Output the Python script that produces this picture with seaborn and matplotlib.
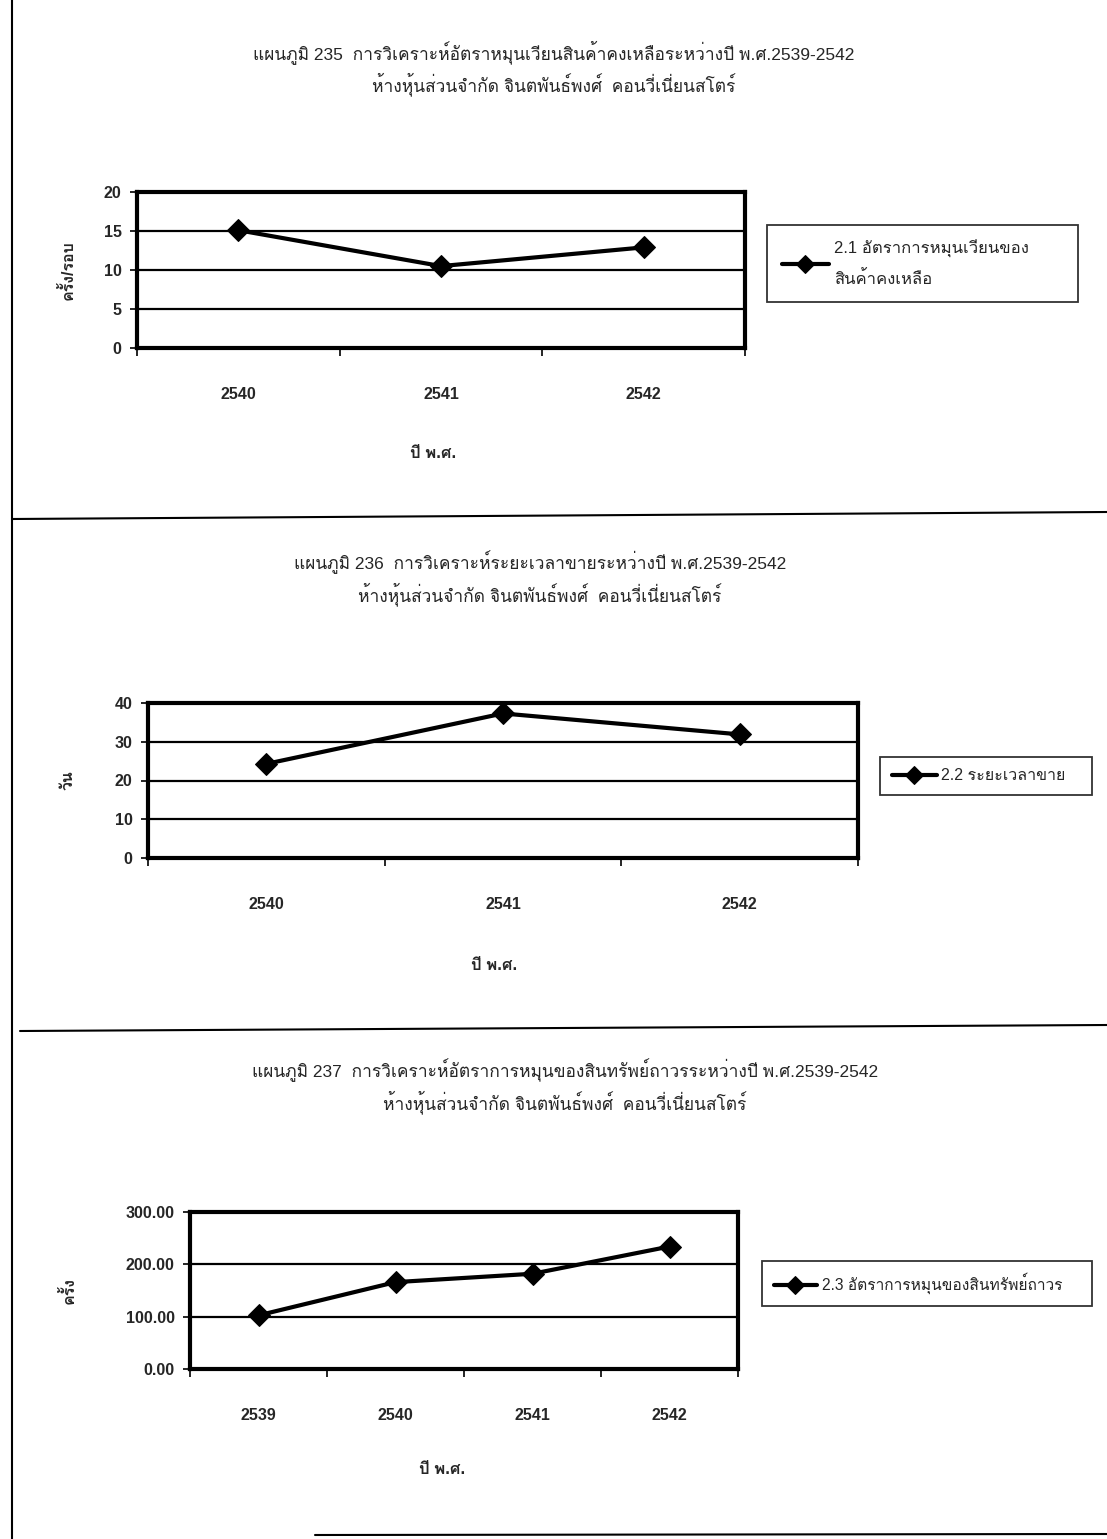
import matplotlib
matplotlib.use("Agg")
import matplotlib.pyplot as plt
import matplotlib.font_manager as fm
from matplotlib.ft2font import FT2Font
import numpy as np
import seaborn as sns

# --- data ---
years_1 = ["2540", "2541", "2542"]
inventory_turnover = [15.1, 10.5, 12.9]

years_2 = ["2540", "2541", "2542"]
selling_days = [24.3, 37.3, 31.9]

years_3 = ["2539", "2540", "2541", "2542"]
fixed_asset_turnover = [102.5, 166.0, 182.0, 234.0]

titles = [
    ("แผนภูมิ 235  การวิเคราะห์อัตราหมุนเวียนสินค้าคงเหลือระหว่างปี พ.ศ.2539-2542",
     "ห้างหุ้นส่วนจำกัด จินตพันธ์พงศ์  คอนวี่เนี่ยนสโตร์"),
    ("แผนภูมิ 236  การวิเคราะห์ระยะเวลาขายระหว่างปี พ.ศ.2539-2542",
     "ห้างหุ้นส่วนจำกัด จินตพันธ์พงศ์  คอนวี่เนี่ยนสโตร์"),
    ("แผนภูมิ 237  การวิเคราะห์อัตราการหมุนของสินทรัพย์ถาวรระหว่างปี พ.ศ.2539-2542",
     "ห้างหุ้นส่วนจำกัด จินตพันธ์พงศ์  คอนวี่เนี่ยนสโตร์"),
]
series_names = ["2.1 อัตราการหมุนเวียนของ\nสินค้าคงเหลือ",
                "2.2 ระยะเวลาขาย",
                "2.3 อัตราการหมุนของสินทรัพย์ถาวร"]
y_labels = ["ครั้ง/รอบ", "วัน", "ครั้ง"]
x_label = "ปี พ.ศ."

sns.set_style("white")


def thai_font():
    # look for an installed font that has Thai glyphs
    for f in fm.fontManager.ttflist:
        try:
            if 0x0E01 in FT2Font(f.fname).get_charmap():
                return f.name
        except Exception:
            pass
    return None


fams = ["Liberation Sans"]
tf = thai_font()
if tf:
    fams.append(tf)
fams.append("DejaVu Sans")
plt.rcParams["font.family"] = fams

W, H = 1107, 1539
fig = plt.figure(figsize=(W / 100, H / 100), dpi=100)


def fx(px):
    return px / W


def fy(py):
    return 1 - py / H


def rect(left, right, top, bottom):
    return [fx(left), fy(bottom), (right - left) / W, (bottom - top) / H]


def draw_chart(ax, cats, vals, ymax, ystep, fmt, ylab):
    x = np.arange(len(cats))
    sns.lineplot(x=x, y=vals, ax=ax, color="black", lw=3, marker="D",
                 markersize=11, markeredgecolor="black")
    ax.set_xlim(-0.5, len(cats) - 0.5)
    ax.set_ylim(0, ymax)
    ticks = np.arange(0, ymax + ystep / 2, ystep)
    ax.set_yticks(ticks)
    ax.set_yticklabels([fmt.format(t) for t in ticks], fontsize=11.5, fontweight="bold")
    for t in ticks[1:-1]:
        ax.axhline(t, color="black", lw=1.6, zorder=0)
    ax.set_xticks(x)
    ax.set_xticklabels(cats, fontsize=11.5, fontweight="bold")
    ax.set_xticks(np.arange(len(cats) + 1) - 0.5, minor=True)
    ax.tick_params(axis="x", which="major", bottom=True, length=0, pad=28)
    ax.tick_params(axis="x", which="minor", bottom=True, length=6, width=1.2,
                   direction="out", color="black")
    ax.tick_params(axis="y", left=True, length=5, width=1.2, direction="out",
                   pad=6, color="black")
    for s in ax.spines.values():
        s.set_linewidth(3)
        s.set_color("black")
    ax.set_ylabel(ylab, fontsize=11.5, fontweight="bold")
    ax.set_xlabel("")


# chart 1
ax1 = fig.add_axes(rect(137, 745, 192, 348))
draw_chart(ax1, years_1, inventory_turnover, 20, 5, "{:.0f}", y_labels[0])
ax1.yaxis.set_label_coords((76 - 137) / 608, 0.5)

# chart 2
ax2 = fig.add_axes(rect(148, 858, 703, 858))
draw_chart(ax2, years_2, selling_days, 40, 10, "{:.0f}", y_labels[1])
ax2.yaxis.set_label_coords((76 - 148) / 710, 0.5)

# chart 3
ax3 = fig.add_axes(rect(190, 738, 1212, 1369))
draw_chart(ax3, years_3, fixed_asset_turnover, 300, 100, "{:.2f}", y_labels[2])
ax3.yaxis.set_label_coords((77 - 190) / 548, 0.5)

# titles and x labels
title_pos = [(554, 52, 84), (540, 562, 594), (565, 1070, 1102)]
xlab_pos = [(433, 453), (494, 965), (442, 1470)]
for (cx, y1, y2), (l1, l2), (xx, xy) in zip(title_pos, titles, xlab_pos):
    fig.text(fx(cx), fy(y1), l1, ha="center", va="center", fontsize=12.5)
    fig.text(fx(cx), fy(y2), l2, ha="center", va="center", fontsize=12.5)
    fig.text(fx(xx), fy(xy), x_label, ha="center", va="center", fontsize=12,
             fontweight="bold")

# legends
legend_boxes = [(767, 225, 1078, 302), (880, 755, 1092, 797), (762, 1262, 1092, 1305)]
pads = [0.9, 0.75, 0.75]
sizes = [12, 11.5, 11.2]
for ax, name, (l, t, r, b), bp, fs in zip([ax1, ax2, ax3], series_names,
                                          legend_boxes, pads, sizes):
    h = ax.lines[0]
    leg = ax.legend([h], [name], loc="center left",
                    bbox_to_anchor=(fx(l), fy(b), (r - l) / W, (b - t) / H),
                    bbox_transform=fig.transFigure, mode="expand",
                    fontsize=fs, frameon=True, fancybox=False, markerscale=0.8,
                    handlelength=2.8, handletextpad=0.3, borderaxespad=0,
                    borderpad=bp)
    leg.get_frame().set_edgecolor("black")
    leg.get_frame().set_linewidth(1.3)
    leg.get_texts()[0].set_linespacing(1.9)

# page frame lines from the scan
fig.add_artist(plt.Line2D([fx(12), fx(12)], [0, 1], color="black", lw=1.5))
fig.add_artist(plt.Line2D([fx(12), 1], [fy(519), fy(512)], color="black", lw=1.5))
fig.add_artist(plt.Line2D([fx(20), 1], [fy(1031), fy(1025)], color="black", lw=1.5))
fig.add_artist(plt.Line2D([fx(315), 1], [fy(1535), fy(1534)], color="black", lw=1.5))

plt.savefig("out.png", dpi=100)
